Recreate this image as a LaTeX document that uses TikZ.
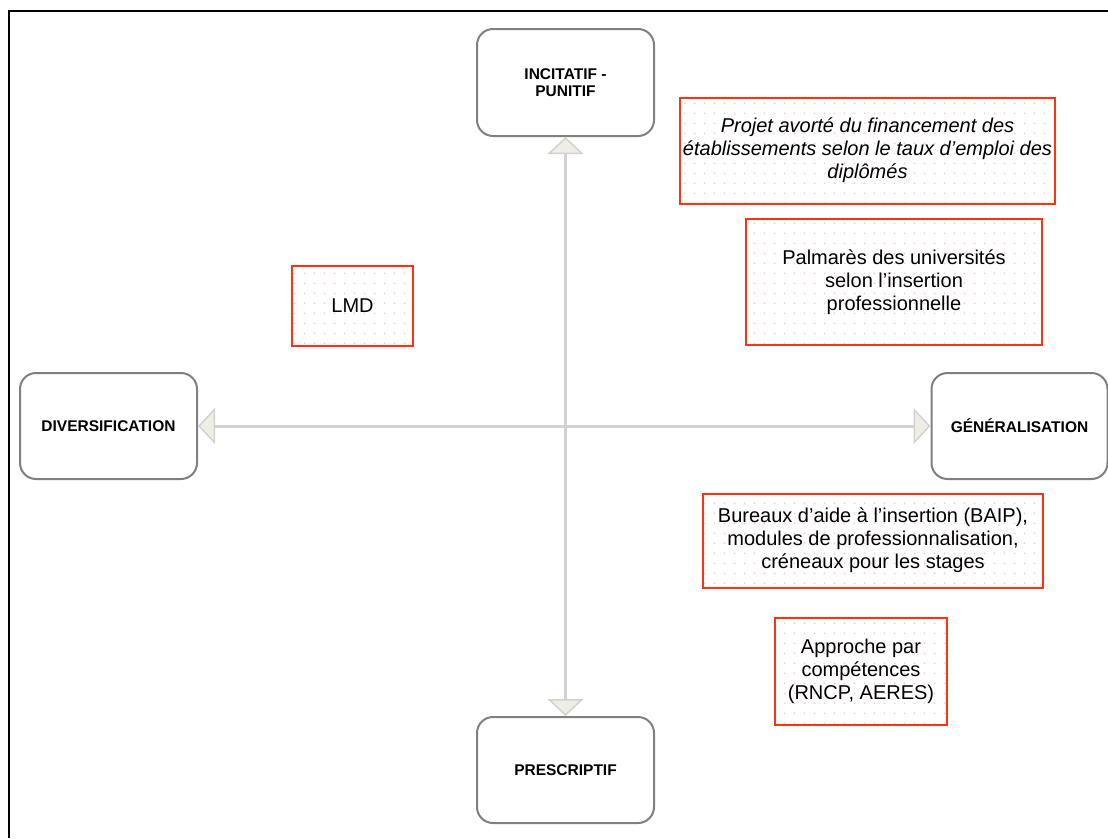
\documentclass[tikz,border=0pt]{standalone}
\usepackage{fontspec}
\setmainfont{Liberation Sans}
\usetikzlibrary{arrows.meta,patterns.meta}
\definecolor{boxgray}{RGB}{128,128,128}
\definecolor{axisgray}{RGB}{210,210,210}
\definecolor{tipfill}{RGB}{238,238,228}
\definecolor{redline}{RGB}{255,51,17}
\definecolor{dotcol}{RGB}{242,205,205}
\tikzdeclarepattern{
  name=pinkdots,
  type=colored,
  bottom left={(0pt,0pt)},
  top right={(10pt,10pt)},
  tile size={(10pt,10pt)},
  code={\fill[dotcol] (5pt,5pt) circle (1.1pt);}
}
\tikzset{
  pole/.style={draw=boxgray, line width=2pt, rounded corners=16pt, fill=white,
    inner sep=0pt, align=center, font=\fontsize{15.5}{16.5}\selectfont\bfseries},
  item/.style={draw=redline, line width=2pt, pattern=pinkdots,
    inner sep=0pt, align=center, font=\fontsize{20}{23}\selectfont},
  axis/.style={draw=axisgray, line width=3pt,
    {Triangle[length=17pt,width=36pt,fill=tipfill,color=axisgray,line width=1.5pt]}-{Triangle[length=17pt,width=36pt,fill=tipfill,color=axisgray,line width=1.5pt]}},
  frame/.style={draw=black, line width=2pt}
}
\begin{document}
\begin{tikzpicture}[x=1pt,y=-1pt]
\useasboundingbox (0,0) rectangle (1108,838);
\coordinate (fa) at (9,838);
\coordinate (fb) at (9,11);
\coordinate (fc) at (1108,11);
\draw[frame] (fa) -- (fb) -- (fc);

\node[pole, minimum width=177pt, minimum height=107pt] (top) at (565.5,82.5) {INCITATIF -\\PUNITIF};
\node[pole, minimum width=177pt, minimum height=106pt] (left) at (108.5,426) {DIVERSIFICATION};
\node[pole, minimum width=176pt, minimum height=106pt] (right) at (1019.5,426) {GÉNÉRALISATION};
\node[pole, minimum width=177pt, minimum height=106pt] (bottom) at (565.5,770) {PRESCRIPTIF};

\draw[axis] (left) -- (right);
\draw[axis] (top) -- (bottom);

\node[item, minimum width=375pt, minimum height=106pt] (projet) at (867.5,150.5)
  {\itshape Projet avorté du financement des\\\itshape établissements selon le taux d’emploi des\\\itshape diplômés};
\node[item, minimum width=296pt, minimum height=126pt] (palmares) at (894,282)
  {Palmarès des universités\\selon l’insertion\\professionnelle};
\node[item, minimum width=121pt, minimum height=80pt] (lmd) at (352.5,306) {LMD};
\node[item, minimum width=340pt, minimum height=94pt] (baip) at (873,540.5)
  {Bureaux d’aide à l’insertion (BAIP),\\modules de professionnalisation,\\créneaux pour les stages};
\node[item, minimum width=172pt, minimum height=107pt] (approche) at (861,671.5)
  {Approche par\\compétences\\(RNCP, AERES)};
\end{tikzpicture}
\end{document}
